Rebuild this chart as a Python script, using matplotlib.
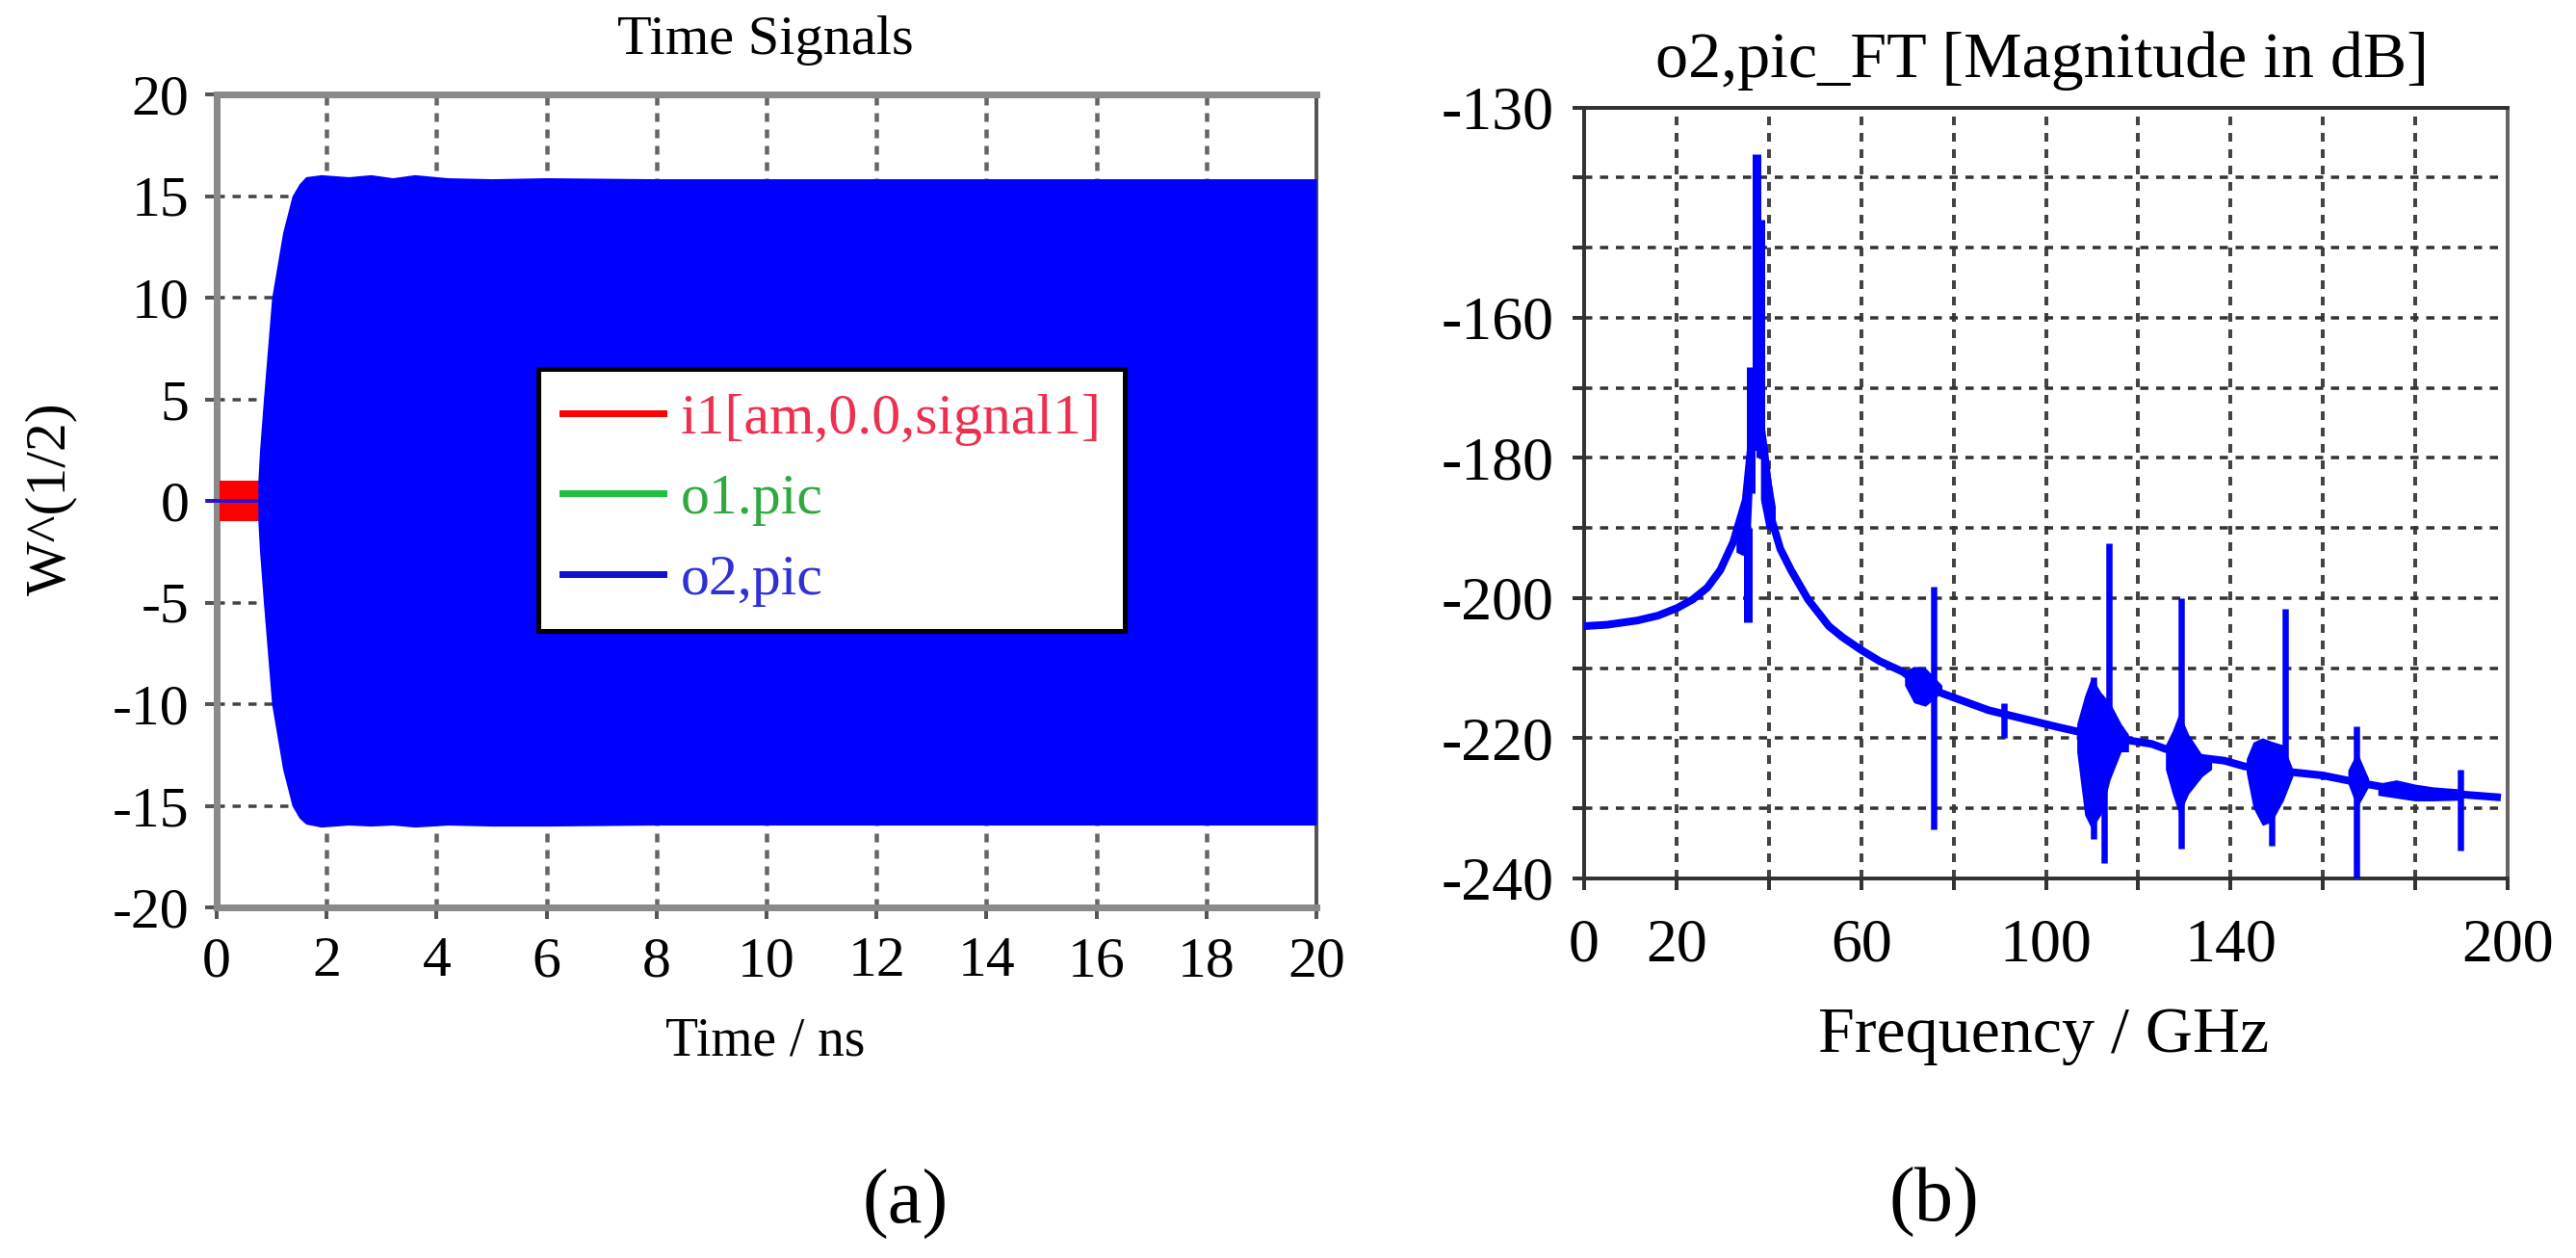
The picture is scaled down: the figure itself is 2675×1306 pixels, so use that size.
import matplotlib
matplotlib.use("Agg")
import matplotlib.pyplot as plt
from matplotlib.lines import Line2D

nan = float("nan")

# ---- panel (a) data ----
env_time = [0.75, 0.78, 0.85, 1.0, 1.2, 1.37, 1.5, 1.62, 1.9, 2.4, 2.8, 3.2, 3.6, 4.2, 5.0, 6.0, 8.0, 12.0, 20.0]
env_upper = [1.0, 2.5, 5.0, 10.0, 13.2, 15.0, 15.6, 15.95, 16.05, 15.95, 16.05, 15.9, 16.05, 15.9, 15.85, 15.9, 15.85, 15.85, 15.85]
env_lower = [-1.0, -2.5, -5.0, -10.0, -13.2, -15.0, -15.6, -15.9, -16.05, -15.95, -16.0, -15.95, -16.05, -15.95, -16.0, -16.0, -15.95, -15.95, -15.95]
input_time = [0.05, 0.78]
input_upper = [1.0, 1.0]
input_lower = [-1.0, -1.0]
zero_time = [-0.15, 0.75]
zero_level = [0.0, 0.0]
legend_labels = ["i1[am,0.0,signal1]", "o1.pic", "o2,pic"]
time_ticks = list(range(0, 21, 2))
sig_ticks = list(range(-20, 21, 5))

# ---- panel (b) data ----
curve_freq = [0, 5, 11.5, 16, 20.2, 23.5, 26.7, 29.5, 32.3, 35, 36.5, 38, 39, 40.7, 42.5, 44.8, 48.5, 53, 56, 60, 64, 69, 73, 87.6, 102.6, 110, 118, 122.9,
              130, 138.7, 143, 150, 160, 167.5, 176, 189.8, 197.7]
curve_db = [-204, -203.8, -203.2, -202.5, -201.4, -200.2, -198.5, -196, -192, -186, -176, -174, -179, -189, -193, -196, -200.2, -204, -205.6, -207.4, -209, -210.5, -212.5, -216, -218.4,
            -219.5, -220.3, -220.8, -222.5, -223.2, -224, -224.6, -225.3, -226.3, -227.3, -228, -228.4]
spike_freq = [35.4, 36.0, 37.3, 38.2, 75.8, 91, 110.3, 112.7, 113.7, 129.2, 148.9, 151.8, 167.2, 189.8]
spike_top = [-190, -167, -136.7, -146, -198.3, -215, -211.3, -222, -192.2, -200, -221, -201.5, -218.3, -224.5]
spike_bottom = [-203.5, -185, -175, -180, -233, -220, -234.3, -237.8, -222, -235.8, -235.3, -224, -240, -236]
band_freq = [33, 34.5, 36, 36.8, nan, 36.8, 38, 39.2, nan, 38.3, 39.5, 41.5, nan,
             69.5, 71.5, 74, 77.6, nan, 106.8, 108.5, 110, 112, 114, 116.4, 118, nan,
             126, 127.5, 129, 131, 134, 136, nan, 143.5, 145, 147, 149, 151.5, 153.6, nan,
             165.5, 167.5, 170, nan, 172, 176, 180, 184, 190]
band_top = [-191, -187, -176, -173, nan, -173, -165, -173, nan, -179, -179, -187, nan,
            -210.5, -209.8, -210, -212.5, nan, -218, -214, -211.3, -213.5, -215, -218, -219.5, nan,
            -221, -219, -216.4, -219.5, -222.5, -223.5, nan, -223, -220.6, -220, -220.5, -221, -224.5, nan,
            -224.6, -222, -225.8, nan, -226.5, -226, -226.6, -227, -227.3]
band_bottom = [-193.5, -194, -192, -180, nan, -179, -179, -179, nan, -186, -190, -191, nan,
               -212.5, -215, -215.5, -213.5, nan, -222, -231, -233, -231, -226, -222, -222, nan,
               -224.5, -228, -231, -228, -225.5, -224.5, nan, -225, -230, -232.5, -232, -229, -225.5, nan,
               -226.5, -230, -227, nan, -228.2, -228.6, -229, -229, -228.9]
freq_ticks = list(range(0, 201, 20))
freq_labels = ["0", "20", "", "60", "", "100", "", "140", "", "", "200"]
db_ticks = list(range(-240, -129, 10))
db_labels = ["-240", "", "-220", "", "-200", "", "-180", "", "-160", "", "", "-130"]

W, H = 2675, 1306
plt.rcParams["font.family"] = ["Liberation Serif", "DejaVu Serif"]
plt.rcParams["lines.scale_dashes"] = False
plt.rcParams["axes.unicode_minus"] = False

fig = plt.figure(figsize=(W / 100, H / 100), dpi=100, facecolor="white")
PT = 0.72  # points per pixel


def add_axes(l, t, r, b):
    return fig.add_axes([l / W, 1 - b / H, (r - l) / W, (b - t) / H])


def style_grid(ax, hcol, vcol, hw, vw):
    ax.set_axisbelow(True)
    ax.yaxis.grid(True, color=hcol, lw=hw * PT, ls=(0, (8.5 * PT, 8 * PT)))
    ax.xaxis.grid(True, color=vcol, lw=vw * PT, ls=(0, (9 * PT, 8 * PT)))


BLUE = "#0000ff"
RED = "#ff0000"
GREEN = "#22c040"

# ---------- panel (a) ----------
L_A, T_A, R_A, B_A = 225, 98, 1367, 942
a = add_axes(L_A, T_A, R_A, B_A)
a.set_xlim(0, 20)
a.set_ylim(-20, 20)
style_grid(a, "#444444", "#666666", 3.5, 4.5)
a.fill_between(input_time, input_lower, input_upper, color=RED, lw=0, zorder=3)
a.plot(zero_time, zero_level, color="#3010d0", lw=4 * PT, clip_on=False, zorder=4)
a.fill_between(env_time, env_lower, env_upper, color=BLUE, lw=0, zorder=5)
for side in ("left", "top", "bottom"):
    a.spines[side].set_linewidth(7 * PT)
    a.spines[side].set_color("#8a8a8a")
a.spines["right"].set_linewidth(4 * PT)
a.spines["right"].set_color("#555555")
a.set_xticks(time_ticks)
a.set_yticks(sig_ticks)
a.tick_params(axis="both", length=12 * PT, width=4 * PT, color="#555555", labelsize=43, pad=12)
a.tick_params(axis="x", pad=13)
a.set_title("Time Signals", fontsize=42, x=(795 - L_A) / (R_A - L_A), y=(B_A - 50) / (B_A - T_A), va="center")
a.set_xlabel("Time / ns", fontsize=40)
a.xaxis.set_label_coords((795 - L_A) / (R_A - L_A), (B_A - 1082) / (B_A - T_A))
a.xaxis.label.set_va("center")
a.set_ylabel("W^(1/2)", fontsize=43)
a.yaxis.set_label_coords((53 - L_A) / (R_A - L_A), (B_A - 518) / (B_A - T_A))
a.yaxis.label.set_va("center")

handles = [Line2D([], [], color=c, lw=7 * PT) for c in (RED, GREEN, "#1010d0")]
leg = a.legend(
    handles, legend_labels,
    loc="upper left",
    bbox_to_anchor=((559 - L_A) / (R_A - L_A), (B_A - 383) / (B_A - T_A)),
    borderaxespad=0, fontsize=43, fancybox=False, framealpha=1,
    edgecolor="black", labelspacing=0.48, handlelength=1.75, handletextpad=0.3,
    borderpad=0.42, labelcolor=["#ee3050", "#30a840", "#3030d8"],
)
leg.get_frame().set_linewidth(5 * PT)
leg.set_zorder(10)

# ---------- panel (b) ----------
L_B, T_B, R_B, B_B = 1645, 111.5, 2604, 912
b = add_axes(L_B, T_B, R_B, B_B)
b.set_xlim(0, 200)
b.set_ylim(-240, -130)
style_grid(b, "#333333", "#444444", 3.5, 4)
b.plot(curve_freq, curve_db, color=BLUE, lw=8 * PT, solid_joinstyle="round", zorder=5)
b.vlines(spike_freq, spike_bottom, spike_top, color=BLUE, lw=[9 * PT if f < 39 else 6.5 * PT for f in spike_freq], zorder=5)
b.fill_between(band_freq, band_bottom, band_top, color=BLUE, lw=0, zorder=5)
for side in b.spines.values():
    side.set_linewidth(4 * PT)
    side.set_color("#333333")
b.spines["right"].set_color("#666666")
b.set_xticks(freq_ticks)
b.set_xticklabels(freq_labels)
b.set_yticks(db_ticks)
b.set_yticklabels(db_labels)
b.tick_params(axis="both", length=12 * PT, width=4 * PT, color="#333333", labelsize=46, pad=14)
b.tick_params(axis="x", pad=21)
b.set_title("o2,pic_FT [Magnitude in dB]", fontsize=49, x=(2120 - L_B) / (R_B - L_B), y=(B_B - 72) / (B_B - T_B), va="center")
b.set_xlabel("Frequency / GHz", fontsize=49)
b.xaxis.set_label_coords((2122 - L_B) / (R_B - L_B), (B_B - 1075) / (B_B - T_B))
b.xaxis.label.set_va("center")

fig.text(940 / W, 1 - 1250 / H, "(a)", fontsize=58, ha="center", va="center")
fig.text(2008 / W, 1 - 1248 / H, "(b)", fontsize=58, ha="center", va="center")

fig.savefig("out.png", dpi=100, facecolor="white")
